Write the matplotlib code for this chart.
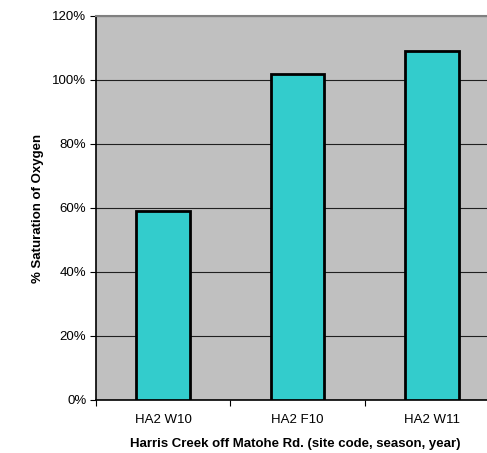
import matplotlib
matplotlib.use("Agg")
import matplotlib.pyplot as plt
from matplotlib.ticker import FixedLocator, PercentFormatter

categories = ["HA2 W10", "HA2 F10", "HA2 W11"]
values = [59, 102, 109]
yticks = [0, 20, 40, 60, 80, 100, 120]

plt.rcParams['font.family'] = ['Liberation Sans', 'DejaVu Sans']

W, H = 487, 453
fig = plt.figure(figsize=(W / 100, H / 100), dpi=100)
left, right, top, bottom = 96, 499, 16, 400
ax = fig.add_axes([left / W, 1 - bottom / H, (right - left) / W, (bottom - top) / H])
ax.set_facecolor("#C0C0C0")

x = list(range(len(categories)))
ax.bar(x, values, width=0.4, color="#33CCCC", edgecolor="black", linewidth=2, zorder=3)

ax.set_xlim(-0.5, len(categories) - 0.5)
ax.set_ylim(0, 120)
ax.set_yticks(yticks)
ax.yaxis.set_major_formatter(PercentFormatter(decimals=0))
ax.grid(axis="y", color="#202020", linewidth=0.8, zorder=1)
ax.set_axisbelow(True)

ax.set_xticks(x)
ax.set_xticklabels(categories, fontsize=9.5)
ax.xaxis.set_minor_locator(FixedLocator([-0.5, 0.5, 1.5, 2.5]))
ax.tick_params(axis="x", which="major", length=0, pad=10)
ax.tick_params(axis="x", which="minor", length=4, width=0.8, color="black")
ax.tick_params(axis="y", labelsize=9.5, length=4, width=0.8, color="black", pad=3)

ax.spines["right"].set_visible(False)
ax.spines["top"].set_color("#808080")
ax.spines["top"].set_linewidth(1.5)
ax.spines["left"].set_color("black")
ax.spines["left"].set_linewidth(1.2)
ax.spines["bottom"].set_color("black")
ax.spines["bottom"].set_linewidth(1.2)

ax.set_xlabel("Harris Creek off Matohe Rd. (site code, season, year)", fontsize=9.5,
              fontweight="bold")
ax.xaxis.set_label_coords((295 - left) / (right - left), -(438 - bottom) / (bottom - top))
ax.set_ylabel("% Saturation of Oxygen", fontsize=9.5, fontweight="bold")
ax.yaxis.set_label_coords(-(96 - 44) / (right - left), 0.5)

fig.savefig("out.png", dpi=100)
